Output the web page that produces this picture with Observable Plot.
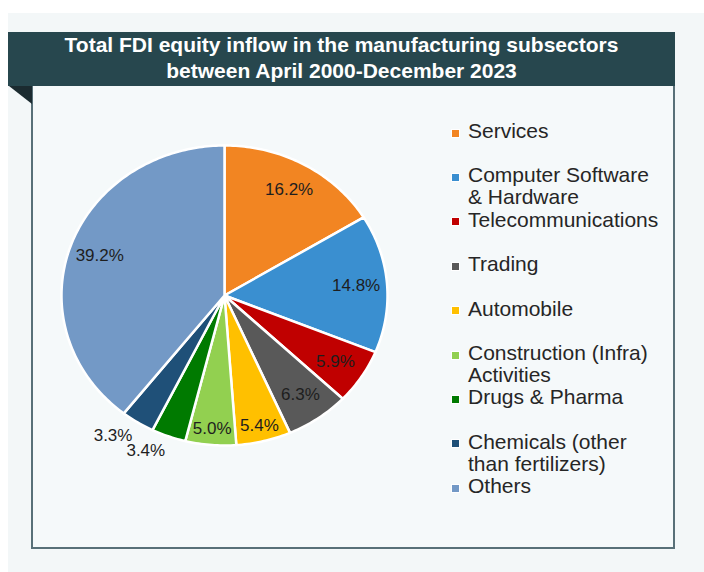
<!DOCTYPE html>
<html><head><meta charset="utf-8">
<script src="https://cdn.jsdelivr.net/npm/d3@7"></script>
<script src="https://cdn.jsdelivr.net/npm/@observablehq/plot@0.6"></script>
<style>
html,body{margin:0;padding:0;background:#fff;width:704px;height:572px;overflow:hidden;font-family:"Liberation Sans",Arial,sans-serif;}
#bg{position:absolute;left:8px;top:13px;width:696px;height:559px;background:#f3f7f8;}
#banner{position:absolute;left:8px;top:32px;width:667px;height:54px;background:#27474e;color:#fff;font-weight:bold;font-size:21px;line-height:26px;text-align:center;}
#fold{position:absolute;left:9px;top:86px;width:0;height:0;border-top:18px solid #1b2b30;border-left:23px solid transparent;}
#box{position:absolute;left:31px;top:86px;width:640px;height:461px;border:2px solid #587078;border-top:none;background:#f5f9fa;}
#chart{position:absolute;left:32px;top:86px;}
#legend{position:absolute;left:0;top:0;}
.item{position:absolute;left:468px;font-size:21px;line-height:22px;color:#262626;white-space:nowrap;}
.sw{position:absolute;left:452px;width:7px;height:7px;box-shadow:0 0 0 1px #fff;}
</style></head>
<body>
<div id="bg"></div>
<div id="banner">Total FDI equity inflow in the manufacturing subsectors<br>between April 2000-December 2023</div>
<div id="box"></div>
<div id="fold"></div>
<div id="chart"></div>
<div id="legend"></div>
<script>
const categories = ["Services","Computer Software & Hardware","Telecommunications","Trading","Automobile","Construction (Infra) Activities","Drugs & Pharma","Chemicals (other than fertilizers)","Others"];
const legendLines = [["Services"],["Computer Software","& Hardware"],["Telecommunications"],["Trading"],["Automobile"],["Construction (Infra)","Activities"],["Drugs & Pharma"],["Chemicals (other","than fertilizers)"],["Others"]];
const shares = [16.2,14.8,5.9,6.3,5.4,5.0,3.4,3.3,39.2];
const colors = ["#f28522","#3a8fd0","#c00000","#595959","#ffc000","#92d050","#007a00","#1f5078","#7399c6"];

const total = d3.sum(shares);
let acc = 0;
const slices = [], inLabels = [], outLabels = [];
categories.forEach((c, i) => {
  const a0 = acc / total * 2 * Math.PI; acc += shares[i]; const a1 = acc / total * 2 * Math.PI;
  slices.push({cat: c, x: 0, y: 0});
  const n = Math.max(2, Math.ceil((a1 - a0) / (Math.PI / 180)));
  for (let k = 0; k <= n; k++) { const a = a0 + (a1 - a0) * k / n; slices.push({cat: c, x: Math.sin(a), y: Math.cos(a)}); }
  slices.push({cat: c, x: 0, y: 0});
  const m = (a0 + a1) / 2;
  const t = shares[i].toFixed(1) + "%";
  if (shares[i] < 4) {
    outLabels.push({x: 1.06 * Math.sin(m), y: 1.06 * Math.cos(m), text: t});
  } else {
    const r = shares[i] < 5.5 ? 0.89 : 0.81;
    inLabels.push({x: r * Math.sin(m), y: r * Math.cos(m), text: t});
  }
});

const chart = Plot.plot({
  width: 642, height: 463,
  marginLeft: 29, marginRight: 287, marginTop: 59, marginBottom: 104,
  x: {domain: [-1, 1], axis: null},
  y: {domain: [-1, 1], axis: null},
  color: {domain: categories, range: colors},
  style: {background: "transparent", fontFamily: "Liberation Sans, Arial, sans-serif"},
  marks: [
    Plot.line(slices, {x: "x", y: "y", z: "cat", fill: "cat", stroke: "white", strokeWidth: 2.5, strokeLinejoin: "round", curve: "linear"}),
    Plot.text(inLabels, {x: "x", y: "y", text: "text", fontSize: 17, fill: "#1e1e1e"}),
    Plot.text(outLabels, {x: "x", y: "y", text: "text", fontSize: 17, fill: "#1e1e1e", textAnchor: "end", dy: 6})
  ]
});
document.getElementById("chart").appendChild(chart);

const leg = document.getElementById("legend");
legendLines.forEach((lines, i) => {
  const cy = 131 + 44.4 * i;
  const sw = document.createElement("div");
  sw.className = "sw"; sw.style.top = (cy - 1.5) + "px"; sw.style.background = colors[i];
  leg.appendChild(sw);
  const it = document.createElement("div");
  it.className = "item"; it.style.top = (cy - 11) + "px";
  it.innerHTML = lines.map(s => s.replace(/&/g, "&amp;")).join("<br>");
  leg.appendChild(it);
});
</script>
</body></html>
